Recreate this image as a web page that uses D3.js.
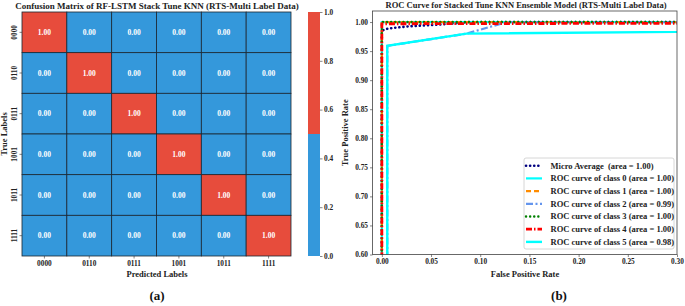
<!DOCTYPE html>
<html>
<head>
<meta charset="utf-8">
<script src="https://cdn.jsdelivr.net/npm/d3@7"></script>
<style>
  body { margin: 0; background: #fff; }
  text { font-family: "Liberation Serif", "Times New Roman", serif; font-weight: bold; white-space: pre; }
</style>
</head>
<body>
<div class="canvas"></div>
<script>
// ---- data ----
const labels = ['0000', '0110', '0111', '1001', '1011', '1111'];
const matrix = [
  [1, 0, 0, 0, 0, 0],
  [0, 1, 0, 0, 0, 0],
  [0, 0, 1, 0, 0, 0],
  [0, 0, 0, 1, 0, 0],
  [0, 0, 0, 0, 1, 0],
  [0, 0, 0, 0, 0, 1]
];
const cbarTicks = [0, 0.2, 0.4, 0.6, 0.8, 1.0];

const rocNames = ['Micro Average  (area = 1.00)', 'ROC curve of class 0 (area = 1.00)',
  'ROC curve of class 1 (area = 1.00)', 'ROC curve of class 2 (area = 0.99)',
  'ROC curve of class 3 (area = 1.00)', 'ROC curve of class 4 (area = 1.00)',
  'ROC curve of class 5 (area = 0.98)'];
const microFpr = [0, 0, 0.004, 0.012, 0.03, 0.06, 0.09, 1];
const microTpr = [0, 0.985, 0.988, 0.99, 0.993, 0.996, 1.0, 1];
const c0Fpr = [0, 0, 1];
const c0Tpr = [0, 1.0, 1];
const c1Fpr = [0, 0, 1];
const c1Tpr = [0, 1.0, 1];
const c2Fpr = [0, 0.0055, 0.0055, 0.086, 0.127, 1];
const c2Tpr = [0, 0, 0.959, 0.98, 1.0, 1];
const c3Fpr = [0, 0, 1];
const c3Tpr = [0, 1.0, 1];
const c4Fpr = [0, 0, 1];
const c4Tpr = [0, 0.997, 1];
const c5Fpr = [0, 0.0055, 0.0055, 0.086, 1];
const c5Tpr = [0, 0, 0.959, 0.98, 0.993];
const xTicks = [0, 0.05, 0.10, 0.15, 0.20, 0.25, 0.30];
const yTicks = [0.60, 0.65, 0.70, 0.75, 0.80, 0.85, 0.90, 0.95, 1.00];

const W = 685, H = 306;
const svg = d3.select('.canvas').append('svg').attr('width', W).attr('height', H);

// ---- heatmap ----
const hm = {x0: 22, x1: 291, y0: 12, y1: 256};
const xb = d3.scaleBand().domain(labels).range([hm.x0, hm.x1]);
const yb = d3.scaleBand().domain(labels).range([hm.y0, hm.y1]);
const cellColor = v => v >= 0.5 ? '#e74c3c' : '#3498db';

const cells = [];
matrix.forEach((row, i) => row.forEach((v, j) => cells.push({r: labels[i], c: labels[j], v})));

svg.append('g').selectAll('rect').data(cells).enter().append('rect')
  .attr('x', d => xb(d.c)).attr('y', d => yb(d.r))
  .attr('width', xb.bandwidth()).attr('height', yb.bandwidth())
  .attr('fill', d => cellColor(d.v))
  .attr('stroke', '#1b2631').attr('stroke-width', 0.8);

svg.append('g').selectAll('text').data(cells).enter().append('text')
  .attr('x', d => xb(d.c) + xb.bandwidth() / 2)
  .attr('y', d => yb(d.r) + yb.bandwidth() / 2)
  .attr('dy', '0.35em').attr('text-anchor', 'middle')
  .attr('fill', '#fff').style('font-size', '7.5px')
  .text(d => d.v.toFixed(2));

// axes of heatmap
const hx = svg.append('g').attr('transform', `translate(0,${hm.y1})`)
  .call(d3.axisBottom(xb).tickSize(2.5).tickPadding(2));
const hy = svg.append('g').attr('transform', `translate(${hm.x0},0)`)
  .call(d3.axisLeft(yb).tickSize(2.5).tickPadding(2));
[hx, hy].forEach(a => {
  a.select('.domain').remove();
  a.selectAll('text').style('font-size', '7.3px').attr('fill', '#222');
  a.selectAll('line').attr('stroke', '#333').attr('stroke-width', 0.6);
});
hy.selectAll('.tick text')
  .attr('transform', 'rotate(-90)').attr('x', 0).attr('y', -8)
  .attr('dy', '0.35em').attr('text-anchor', 'middle');

svg.append('text').attr('x', 157).attr('y', 9).attr('text-anchor', 'middle')
  .style('font-size', '9px').attr('fill', '#222')
  .text('Confusion Matrix of RF-LSTM Stack Tune KNN (RTS-Multi Label Data)');
svg.append('text').attr('x', 157).attr('y', 277).attr('text-anchor', 'middle')
  .style('font-size', '8.5px').attr('fill', '#222').text('Predicted Labels');
svg.append('text').attr('transform', `translate(7,${(hm.y0 + hm.y1) / 2}) rotate(-90)`)
  .attr('text-anchor', 'middle').style('font-size', '8.5px').attr('fill', '#222')
  .text('True Labels');

// colorbar
const cb = {x0: 308, x1: 320};
const cy = d3.scaleLinear().domain([0, 1]).range([hm.y1, hm.y0]);
svg.append('rect').attr('x', cb.x0).attr('y', cy(1)).attr('width', cb.x1 - cb.x0)
  .attr('height', cy(0.5) - cy(1)).attr('fill', cellColor(1));
svg.append('rect').attr('x', cb.x0).attr('y', cy(0.5)).attr('width', cb.x1 - cb.x0)
  .attr('height', cy(0) - cy(0.5)).attr('fill', cellColor(0));
const cax = svg.append('g').attr('transform', `translate(${cb.x1},0)`)
  .call(d3.axisRight(cy).tickValues(cbarTicks).tickFormat(d3.format('.1f')).tickSize(2.5).tickPadding(1.5));
cax.select('.domain').remove();
cax.selectAll('text').style('font-size', '7.3px').attr('fill', '#222');
cax.selectAll('line').attr('stroke', '#333').attr('stroke-width', 0.6);

svg.append('text').attr('x', 157).attr('y', 300).attr('text-anchor', 'middle')
  .style('font-size', '13px').attr('fill', '#111').text('(a)');

// ---- ROC ----
const rc = {x0: 372.5, x1: 677, y0: 11, y1: 254.5};
const rx = d3.scaleLinear().domain([-0.0095, 0.30]).range([rc.x0, rc.x1]);
const ry = d3.scaleLinear().domain([0.60, 1.019]).range([rc.y1, rc.y0]);

svg.append('clipPath').attr('id', 'rocclip').append('rect')
  .attr('x', rc.x0).attr('y', rc.y0).attr('width', rc.x1 - rc.x0).attr('height', rc.y1 - rc.y0);

const series = [
  {fpr: microFpr, tpr: microTpr, color: 'navy', dash: '0.1 4', w: 2.6, cap: 'round'},
  {fpr: c0Fpr, tpr: c0Tpr, color: 'aqua', dash: null, w: 2.2},
  {fpr: c1Fpr, tpr: c1Tpr, color: 'darkorange', dash: '5 3', w: 2.2},
  {fpr: c2Fpr, tpr: c2Tpr, color: 'cornflowerblue', dash: '7 2.5 2 2.5', w: 2.2},
  {fpr: c3Fpr, tpr: c3Tpr, color: 'green', dash: '0.1 4', w: 2.4, cap: 'round'},
  {fpr: c4Fpr, tpr: c4Tpr, color: 'red', dash: '6 2 1.5 2', w: 2.8},
  {fpr: c5Fpr, tpr: c5Tpr, color: 'aqua', dash: null, w: 2.4}
];
const line = d3.line().x(d => rx(d[0])).y(d => ry(d[1]));

const rg = svg.append('g').attr('clip-path', 'url(#rocclip)');
series.forEach(s => {
  rg.append('path').attr('d', line(s.fpr.map((f, i) => [f, s.tpr[i]])))
    .attr('fill', 'none').attr('stroke', s.color).attr('stroke-width', s.w)
    .attr('stroke-dasharray', s.dash).attr('stroke-linecap', s.cap || 'butt');
});

svg.append('rect').attr('x', rc.x0).attr('y', rc.y0).attr('width', rc.x1 - rc.x0)
  .attr('height', rc.y1 - rc.y0).attr('fill', 'none').attr('stroke', '#444').attr('stroke-width', 0.8);

const rax = svg.append('g').attr('transform', `translate(0,${rc.y1})`)
  .call(d3.axisBottom(rx).tickValues(xTicks).tickFormat(d3.format('.2f')).tickSize(2.5).tickPadding(2));
const ray = svg.append('g').attr('transform', `translate(${rc.x0},0)`)
  .call(d3.axisLeft(ry).tickValues(yTicks).tickFormat(d3.format('.2f')).tickSize(2.5).tickPadding(2));
[rax, ray].forEach(a => {
  a.select('.domain').remove();
  a.selectAll('text').style('font-size', '7.3px').attr('fill', '#222');
  a.selectAll('line').attr('stroke', '#333').attr('stroke-width', 0.6);
});

svg.append('text').attr('x', 526).attr('y', 8).attr('text-anchor', 'middle')
  .style('font-size', '8.5px').attr('fill', '#222')
  .text('ROC Curve for Stacked Tune KNN Ensemble Model (RTS-Multi Label Data)');
svg.append('text').attr('x', 525).attr('y', 277).attr('text-anchor', 'middle')
  .style('font-size', '8.5px').attr('fill', '#222').text('False Positive Rate');
svg.append('text').attr('transform', `translate(348,${(rc.y0 + rc.y1) / 2}) rotate(-90)`)
  .attr('text-anchor', 'middle').style('font-size', '8.5px').attr('fill', '#222')
  .text('True Positive Rate');

// legend
const lg = {x: 524, y: 158, w: 150, h: 91, step: 12.7};
svg.append('rect').attr('x', lg.x).attr('y', lg.y).attr('width', lg.w).attr('height', lg.h)
  .attr('rx', 2).attr('fill', '#fff').attr('fill-opacity', 0.85)
  .attr('stroke', '#ccc').attr('stroke-width', 0.8);
const items = svg.append('g').selectAll('g').data(series).enter().append('g')
  .attr('transform', (d, i) => `translate(${lg.x + 2},${lg.y + 7.7 + i * lg.step})`);
items.append('line').attr('x1', 0).attr('x2', 16)
  .attr('stroke', d => d.color).attr('stroke-width', d => d.w)
  .attr('stroke-dasharray', d => d.dash).attr('stroke-linecap', d => d.cap || 'butt');
items.append('text').attr('x', 24.5).attr('dy', '0.35em')
  .style('font-size', '8.5px').attr('fill', '#222').text((d, i) => rocNames[i]);

svg.append('text').attr('x', 559).attr('y', 300).attr('text-anchor', 'middle')
  .style('font-size', '13px').attr('fill', '#111').text('(b)');
</script>
</body>
</html>
